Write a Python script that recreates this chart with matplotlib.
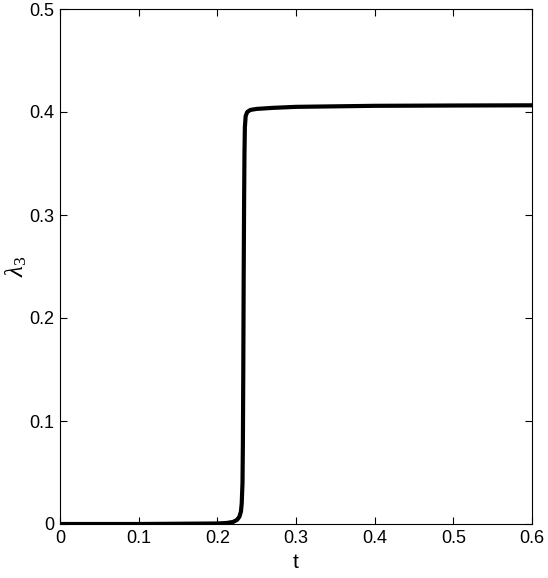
import matplotlib
matplotlib.use('Agg')
import matplotlib.pyplot as plt

# curve (t, lambda_3)
t_vals = [0.0, 0.1, 0.2, 0.212, 0.220, 0.225, 0.228, 0.230, 0.231, 0.232,
          0.2325, 0.233, 0.2335, 0.234, 0.2345, 0.235, 0.236, 0.238, 0.242,
          0.25, 0.27, 0.3, 0.35, 0.4, 0.5, 0.6]
lam3 = [0.0, 0.0, 0.0005, 0.001, 0.002, 0.004, 0.007, 0.012, 0.02, 0.04,
        0.08, 0.15, 0.24, 0.31, 0.36, 0.385, 0.396, 0.400, 0.402,
        0.403, 0.404, 0.405, 0.4055, 0.406, 0.4063, 0.4065]

x_ticks = [0, 0.1, 0.2, 0.3, 0.4, 0.5, 0.6]
y_ticks = [0, 0.1, 0.2, 0.3, 0.4, 0.5]

plt.rcParams['font.family'] = ['Liberation Sans', 'DejaVu Sans']
plt.rcParams['mathtext.fontset'] = 'custom'
plt.rcParams['mathtext.rm'] = 'Liberation Serif'
plt.rcParams['mathtext.it'] = 'Liberation Serif:italic'

fig = plt.figure(figsize=(5.48, 5.78), dpi=100)
ax = fig.add_axes([60 / 548, 1 - 524 / 578, 472 / 548, 515 / 578])

ax.plot(t_vals, lam3, color='black', linewidth=3.0)

ax.set_xlim(0, 0.6)
ax.set_ylim(0, 0.5)
ax.set_xticks(x_ticks)
ax.set_yticks(y_ticks)
ax.set_xticklabels(['0', '0.1', '0.2', '0.3', '0.4', '0.5', '0.6'])
ax.set_yticklabels(['0', '0.1', '0.2', '0.3', '0.4', '0.5'])
ax.tick_params(direction='in', top=True, right=True, labelsize=13, length=5, width=0.8, pad=4)
for s in ax.spines.values():
    s.set_linewidth(0.8)

ax.set_xlabel('t', fontsize=15, labelpad=5)
ax.set_ylabel(r'$\lambda_3$', fontsize=18)
ax.yaxis.set_label_coords(-0.065, 0.5)

fig.savefig('out.png', dpi=100)
